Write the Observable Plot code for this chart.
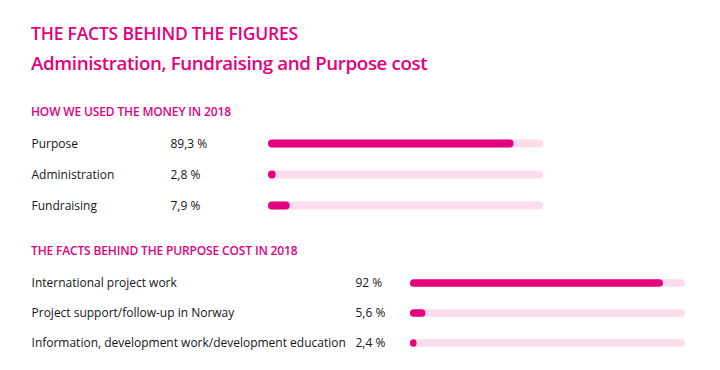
<!DOCTYPE html>
<html>
<head>
<meta charset="utf-8">
<script src="https://cdn.jsdelivr.net/npm/d3@7"></script>
<script src="https://cdn.jsdelivr.net/npm/@observablehq/plot@0.6"></script>
<style>
  html, body { margin: 0; padding: 0; background: #fff; }
  body { width: 720px; height: 370px; position: relative; overflow: hidden; font-family: "Open Sans", sans-serif; }
  .t { position: absolute; left: 31px; color: #e5007d; font-weight: 600; white-space: nowrap; line-height: 1; }
  #title { top: 25px; font-size: 17.5px; letter-spacing: -0.2px; }
  #subtitle { top: 54px; font-size: 18.7px; letter-spacing: -0.35px; }
  .sec { font-size: 12px; letter-spacing: -0.15px; }
  #h1 { top: 106px; }
  #h2 { top: 245px; }
  .chart { position: absolute; left: 0; }
  #c1 { top: 128px; }
  #c2 { top: 267.5px; }
</style>
</head>
<body>
<div class="t" id="title">THE FACTS BEHIND THE FIGURES</div>
<div class="t" id="subtitle">Administration, Fundraising and Purpose cost</div>
<div class="t sec" id="h1">HOW WE USED THE MONEY IN 2018</div>
<div class="t sec" id="h2">THE FACTS BEHIND THE PURPOSE COST IN 2018</div>
<div class="chart" id="c1"></div>
<div class="chart" id="c2"></div>
<script>
const moneyCategories = ["Purpose", "Administration", "Fundraising"];
const moneyValues = [89.3, 2.8, 7.9];
const purposeCategories = [
  "International project work",
  "Project support/follow-up in Norway",
  "Information, development work/development education"
];
const purposeValues = [92, 5.6, 2.4];

const MAGENTA = "#e5007d";
const TRACK = "#fcdcea";
const INK = "#161616";

const fmt = v => String(v).replace(".", ",") + " %";

function chart({categories, values, step, left, right, labelX, valueX}) {
  const data = categories.map((c, i) => ({c, v: values[i]}));
  const inset = (step - 8) / 2;
  return Plot.plot({
    width: 720,
    height: step * categories.length,
    marginLeft: left,
    marginRight: right,
    marginTop: 0,
    marginBottom: 0,
    x: {domain: [0, 100], axis: null},
    y: {domain: categories, axis: null, padding: 0},
    style: {fontFamily: "Open Sans, sans-serif", background: "transparent"},
    marks: [
      Plot.barX(data, {y: "c", x: () => 100, fill: TRACK, rx: 4, insetTop: inset, insetBottom: inset}),
      Plot.barX(data, {y: "c", x: "v", fill: MAGENTA, rx: 4, insetTop: inset, insetBottom: inset}),
      Plot.text(data, {y: "c", text: "c", frameAnchor: "left", dx: labelX - left, textAnchor: "start", fill: INK, fontSize: 12, fontWeight: 500}),
      Plot.text(data, {y: "c", text: d => fmt(d.v), frameAnchor: "left", dx: valueX - left, textAnchor: "start", fill: INK, fontSize: 12, fontWeight: 500})
    ]
  });
}

document.getElementById("c1").append(chart({
  categories: moneyCategories, values: moneyValues, step: 31,
  left: 268, right: 720 - 543, labelX: 31, valueX: 170
}));
document.getElementById("c2").append(chart({
  categories: purposeCategories, values: purposeValues, step: 30.3,
  left: 410, right: 720 - 685, labelX: 31, valueX: 355
}));
</script>
</body>
</html>
